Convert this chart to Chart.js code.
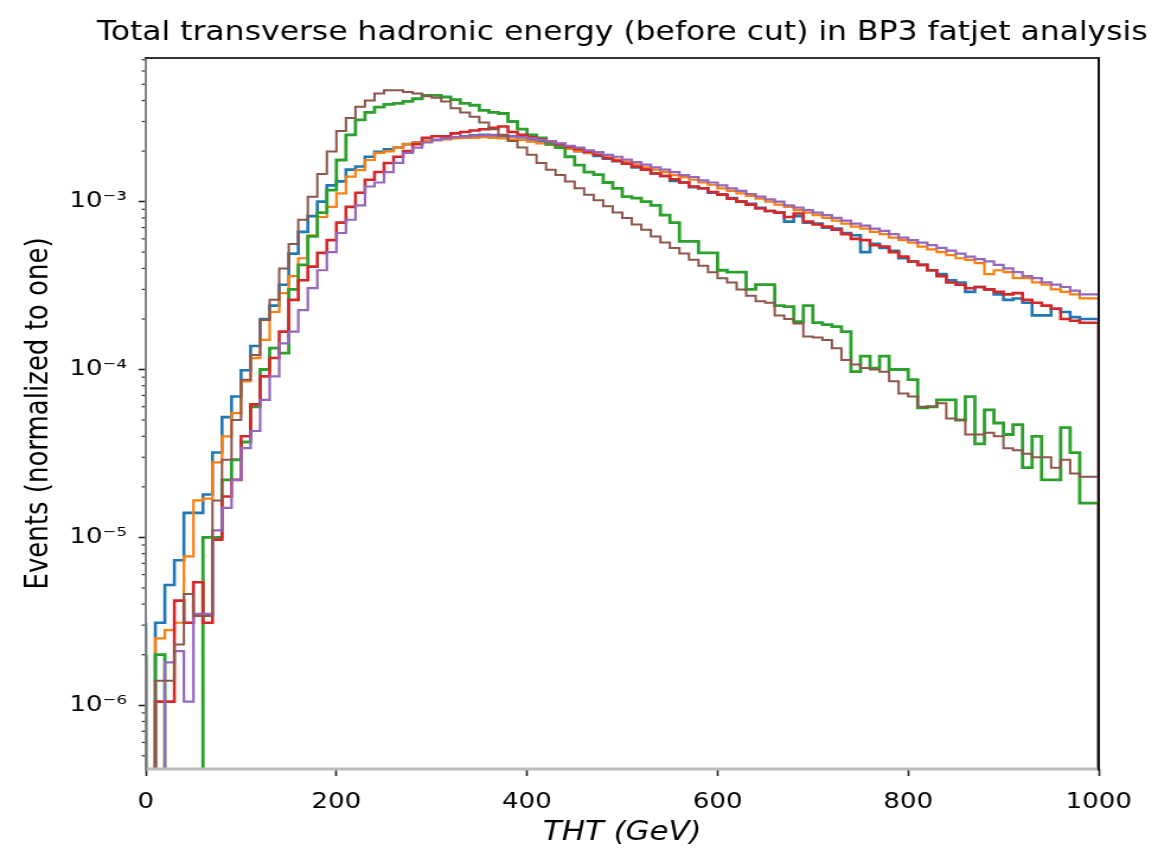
<!DOCTYPE html>
<html>
<head>
<meta charset="utf-8">
<script src="https://cdn.jsdelivr.net/npm/chart.js@4/dist/chart.umd.min.js"></script>
<style>
html,body{margin:0;padding:0;background:#fff;overflow:hidden}
canvas{display:block}
</style>
</head>
<body>
<canvas id="c" width="977" height="854" style="width:1158px;height:854px"></canvas>
<script>
// ---- data (bin edges in GeV, 10 GeV bins) ----
const binEdges = [0,10,20,30,40,50,60,70,80,90,100,110,120,130,140,150,160,170,180,190,
200,210,220,230,240,250,260,270,280,290,300,310,320,330,340,350,360,370,380,390,
400,410,420,430,440,450,460,470,480,490,500,510,520,530,540,550,560,570,580,590,
600,610,620,630,640,650,660,670,680,690,700,710,720,730,740,750,760,770,780,790,
800,810,820,830,840,850,860,870,880,890,900,910,920,930,940,950,960,970,980,990,1000];

const xTickValues = [0,200,400,600,800,1000];
const xTickLabels = ['0','200','400','600','800','1000'];
const yTickValues = [1e-6,1e-5,1e-4,1e-3];
const yTickLabels = ['10\u207B\u2076','10\u207B\u2075','10\u207B\u2074','10\u207B\u00B3'];

const titleText = 'Total transverse hadronic energy (before cut) in BP3 fatjet analysis';
const xTitle = 'THT (GeV)';
const yTitle = 'Events (normalized to one)';

const seriesBlue = [
3.1e-6,0,3.1e-6,5.2e-6,7.3e-6,1.4e-5,1.4e-5,1.8e-5,3.2e-5,5.2e-5,
6.9e-5,9.9e-5,1.38e-4,2.0e-4,2.4e-4,3.2e-4,4.9e-4,6.6e-4,8.2e-4,1.0e-3,
1.25e-3,1.32e-3,1.55e-3,1.62e-3,1.85e-3,1.98e-3,2.05e-3,2.1e-3,2.2e-3,2.25e-3,
2.3e-3,2.33e-3,2.38e-3,2.42e-3,2.45e-3,2.48e-3,2.5e-3,2.48e-3,2.45e-3,2.45e-3,
2.42e-3,2.35e-3,2.3e-3,2.22e-3,2.15e-3,2.08e-3,2.0e-3,1.95e-3,1.87e-3,1.8e-3,
1.74e-3,1.68e-3,1.6e-3,1.55e-3,1.47e-3,1.42e-3,1.33e-3,1.3e-3,1.22e-3,1.2e-3,
1.13e-3,1.1e-3,1.05e-3,1.0e-3,9.7e-4,9.2e-4,8.8e-4,8.6e-4,7.6e-4,8.2e-4,
7.5e-4,7.4e-4,7.0e-4,6.9e-4,6.5e-4,6.3e-4,5.0e-4,5.6e-4,5.3e-4,5.1e-4,
4.6e-4,4.4e-4,4.2e-4,3.9e-4,3.7e-4,3.4e-4,3.3e-4,2.9e-4,3.1e-4,3.0e-4,
2.8e-4,2.6e-4,2.65e-4,2.5e-4,2.1e-4,2.1e-4,2.3e-4,2.2e-4,2.05e-4,2.0e-4];

const seriesOrange = [
1.05e-6,0,2.5e-6,2.8e-6,3.1e-6,7.7e-6,1.66e-5,1.7e-5,2.8e-5,4.0e-5,
5.5e-5,8.5e-5,1.17e-4,1.5e-4,2.2e-4,2.85e-4,3.6e-4,4.6e-4,6.3e-4,8.1e-4,
9.3e-4,1.12e-3,1.41e-3,1.54e-3,1.77e-3,1.95e-3,1.99e-3,2.1e-3,2.2e-3,2.25e-3,
2.3e-3,2.32e-3,2.35e-3,2.38e-3,2.4e-3,2.4e-3,2.42e-3,2.4e-3,2.38e-3,2.35e-3,
2.33e-3,2.28e-3,2.22e-3,2.18e-3,2.12e-3,2.07e-3,2.0e-3,1.95e-3,1.9e-3,1.83e-3,
1.78e-3,1.72e-3,1.67e-3,1.6e-3,1.55e-3,1.5e-3,1.44e-3,1.4e-3,1.35e-3,1.3e-3,
1.26e-3,1.2e-3,1.16e-3,1.12e-3,1.08e-3,1.04e-3,1.0e-3,9.6e-4,9.3e-4,8.9e-4,
8.6e-4,8.3e-4,8.0e-4,7.7e-4,7.4e-4,7.1e-4,6.9e-4,6.6e-4,6.4e-4,6.1e-4,
5.9e-4,5.7e-4,5.4e-4,5.2e-4,5.0e-4,4.8e-4,4.6e-4,4.5e-4,4.3e-4,3.7e-4,
3.9e-4,3.8e-4,3.5e-4,3.5e-4,3.3e-4,3.2e-4,3.0e-4,2.9e-4,2.8e-4,2.65e-4];

const seriesGreen = [
2.0e-6,0,2.0e-6,0,0,0,0,1.0e-5,1.0e-5,2.2e-5,
2.9e-5,3.7e-5,6.0e-5,1.0e-4,1.34e-4,1.25e-4,3.0e-4,4.2e-4,6.2e-4,8.6e-4,
1.17e-3,1.77e-3,2.5e-3,3.07e-3,3.4e-3,3.65e-3,3.8e-3,3.85e-3,3.95e-3,4.1e-3,
4.3e-3,4.3e-3,4.2e-3,4.05e-3,3.85e-3,3.75e-3,3.5e-3,3.4e-3,3.35e-3,3.0e-3,
2.7e-3,2.5e-3,2.4e-3,2.2e-3,2.1e-3,1.85e-3,1.65e-3,1.5e-3,1.45e-3,1.3e-3,
1.2e-3,1.07e-3,1.05e-3,1.0e-3,9.5e-4,8.3e-4,7.5e-4,5.8e-4,5.8e-4,4.95e-4,
4.95e-4,3.9e-4,3.8e-4,3.8e-4,3.0e-4,3.2e-4,3.2e-4,2.4e-4,2.37e-4,1.93e-4,
2.4e-4,1.9e-4,1.85e-4,1.8e-4,1.68e-4,9.7e-5,1.2e-4,1.02e-4,1.2e-4,1.0e-4,
1.0e-4,8.7e-5,5.9e-5,6.0e-5,6.6e-5,6.6e-5,5.0e-5,6.9e-5,3.6e-5,5.75e-5,
4.8e-5,4.1e-5,4.7e-5,2.6e-5,4.0e-5,2.2e-5,2.2e-5,4.5e-5,3.2e-5,1.6e-5];

const seriesRed = [
0,0,1.05e-6,1.05e-6,4.2e-6,3.1e-6,5.4e-6,3.1e-6,9.7e-6,1.75e-5,
2.2e-5,4.0e-5,6.2e-5,9.1e-5,1.17e-4,1.68e-4,2.6e-4,3.4e-4,4.1e-4,4.95e-4,
5.9e-4,7.5e-4,9.3e-4,1.13e-3,1.35e-3,1.5e-3,1.7e-3,1.85e-3,2.0e-3,2.2e-3,
2.4e-3,2.45e-3,2.45e-3,2.55e-3,2.6e-3,2.65e-3,2.7e-3,2.75e-3,2.8e-3,2.6e-3,
2.5e-3,2.42e-3,2.35e-3,2.28e-3,2.2e-3,2.12e-3,2.05e-3,1.98e-3,1.9e-3,1.82e-3,
1.75e-3,1.68e-3,1.62e-3,1.55e-3,1.47e-3,1.42e-3,1.36e-3,1.3e-3,1.23e-3,1.2e-3,
1.14e-3,1.1e-3,1.04e-3,1.0e-3,9.6e-4,9.1e-4,8.8e-4,8.6e-4,8.1e-4,8.5e-4,
7.6e-4,7.3e-4,7.1e-4,6.8e-4,6.4e-4,6.0e-4,5.9e-4,5.5e-4,5.4e-4,5.0e-4,
4.7e-4,4.4e-4,4.2e-4,3.9e-4,3.6e-4,3.3e-4,3.2e-4,3.05e-4,3.1e-4,3.0e-4,
2.9e-4,2.8e-4,2.85e-4,2.6e-4,2.5e-4,2.4e-4,2.3e-4,2.0e-4,1.95e-4,1.9e-4];

const seriesPurple = [
1.8e-6,0,0,1.8e-6,2.1e-6,1.05e-6,3.5e-6,3.5e-6,1.1e-5,1.5e-5,
2.2e-5,3.4e-5,4.3e-5,6.6e-5,9.1e-5,1.43e-4,1.68e-4,2.26e-4,3.05e-4,3.9e-4,
5.0e-4,6.5e-4,7.8e-4,9.5e-4,1.23e-3,1.3e-3,1.5e-3,1.7e-3,1.95e-3,2.1e-3,
2.25e-3,2.33e-3,2.38e-3,2.42e-3,2.45e-3,2.47e-3,2.48e-3,2.5e-3,2.48e-3,2.45e-3,
2.42e-3,2.38e-3,2.33e-3,2.28e-3,2.22e-3,2.15e-3,2.1e-3,2.02e-3,1.97e-3,1.9e-3,
1.85e-3,1.78e-3,1.72e-3,1.66e-3,1.6e-3,1.55e-3,1.5e-3,1.44e-3,1.4e-3,1.34e-3,
1.3e-3,1.25e-3,1.2e-3,1.16e-3,1.11e-3,1.07e-3,1.03e-3,1.0e-3,9.5e-4,9.2e-4,
8.9e-4,8.6e-4,8.3e-4,8.0e-4,7.7e-4,7.4e-4,7.2e-4,6.9e-4,6.7e-4,6.4e-4,
6.1e-4,5.9e-4,5.7e-4,5.5e-4,5.3e-4,5.1e-4,4.9e-4,4.7e-4,4.55e-4,4.4e-4,
4.2e-4,4.0e-4,3.8e-4,3.6e-4,3.5e-4,3.3e-4,3.2e-4,3.1e-4,2.95e-4,2.8e-4];

const seriesBrown = [
6.5e-7,0,1.4e-6,1.4e-6,2.3e-6,4.6e-6,3.4e-6,3.4e-6,1.66e-5,2.9e-5,
5.0e-5,8.7e-5,1.22e-4,1.97e-4,2.6e-4,4.0e-4,5.6e-4,7.8e-4,1.07e-3,1.46e-3,
1.99e-3,2.63e-3,3.15e-3,3.68e-3,4.0e-3,4.4e-3,4.6e-3,4.6e-3,4.5e-3,4.4e-3,
4.25e-3,4.15e-3,3.95e-3,3.6e-3,3.4e-3,3.2e-3,2.96e-3,2.7e-3,2.5e-3,2.3e-3,
2.1e-3,1.9e-3,1.7e-3,1.55e-3,1.44e-3,1.32e-3,1.2e-3,1.1e-3,1.02e-3,9.4e-4,
8.6e-4,8.0e-4,7.3e-4,6.8e-4,6.2e-4,5.7e-4,5.3e-4,4.9e-4,4.5e-4,4.15e-4,
3.8e-4,3.5e-4,3.3e-4,3.0e-4,2.75e-4,2.55e-4,2.5e-4,2.1e-4,2.0e-4,1.88e-4,
1.57e-4,1.55e-4,1.5e-4,1.34e-4,1.14e-4,1.07e-4,1.02e-4,1.0e-4,9.7e-5,8.5e-5,
7.2e-5,6.9e-5,6.0e-5,6.0e-5,6.3e-5,5.1e-5,5.0e-5,4.1e-5,4.1e-5,4.2e-5,
4.0e-5,3.4e-5,3.3e-5,3.15e-5,3.0e-5,3.0e-5,2.6e-5,2.9e-5,2.4e-5,2.3e-5];

const seriesList = [seriesBlue, seriesOrange, seriesGreen, seriesRed, seriesPurple, seriesBrown];
const seriesColors = ['#1f77b4','#ff7f0e','#2ca02c','#d62728','#9467bd','#8c564b'];
const seriesWidths = [2.6, 2.2, 2.8, 2.6, 2.2, 2.0];

// ---- build step outlines ----
const FLOOR = 1e-9;
function stepPoints(vals) {
  const n = vals.length;
  const pts = [{x: binEdges[0], y: FLOOR}];
  for (let i = 0; i < n; i++) pts.push({x: binEdges[i], y: vals[i] > 0 ? vals[i] : FLOOR});
  pts.push({x: binEdges[n], y: vals[n-1] > 0 ? vals[n-1] : FLOOR});
  pts.push({x: binEdges[n], y: FLOOR});
  return pts;
}

const datasets = seriesList.map((vals, i) => ({
  data: stepPoints(vals),
  borderColor: seriesColors[i],
  borderWidth: seriesWidths[i],
  backgroundColor: seriesColors[i],
  fill: false,
  stepped: 'after',
  pointRadius: 0,
  tension: 0,
  order: seriesList.length - 1 - i
}));

const FONT = '"DejaVu Sans", sans-serif';
Chart.defaults.font.family = FONT;
Chart.defaults.color = '#000';

const framePlugin = {
  id: 'frame',
  afterDraw(chart) {
    const ctx = chart.ctx;
    const a = chart.chartArea;
    const y = chart.scales.y;
    ctx.save();
    // minor log ticks
    ctx.strokeStyle = '#333';
    ctx.lineWidth = 1.2;
    for (let p = -7; p <= -2; p++) {
      for (let k = 2; k <= 9; k++) {
        const v = k * Math.pow(10, p);
        if (v < y.min || v > y.max) continue;
        const py = y.getPixelForValue(v);
        ctx.beginPath();
        ctx.moveTo(a.left - 3.5, py);
        ctx.lineTo(a.left, py);
        ctx.stroke();
      }
    }
    // spines
    ctx.lineCap = 'butt';
    ctx.strokeStyle = '#bbb'; ctx.lineWidth = 3;
    ctx.beginPath(); ctx.moveTo(a.left, a.bottom); ctx.lineTo(a.right, a.bottom); ctx.stroke();
    ctx.strokeStyle = '#777'; ctx.lineWidth = 1.8;
    ctx.beginPath(); ctx.moveTo(a.left, a.top); ctx.lineTo(a.left, a.bottom + 1.5); ctx.stroke();
    ctx.strokeStyle = '#333'; ctx.lineWidth = 1.8;
    ctx.beginPath(); ctx.moveTo(a.left - 1, a.top); ctx.lineTo(a.right + 1, a.top); ctx.stroke();
    ctx.strokeStyle = '#111'; ctx.lineWidth = 2;
    ctx.beginPath(); ctx.moveTo(a.right, a.top); ctx.lineTo(a.right, a.bottom + 1.5); ctx.stroke();
    // title
    ctx.fillStyle = '#000';
    ctx.font = '26.5px ' + FONT;
    ctx.textAlign = 'center';
    ctx.textBaseline = 'middle';
    ctx.fillText(titleText, (a.left + a.right) / 2, 33);
    ctx.restore();
  }
};

new Chart(document.getElementById('c'), {
  type: 'line',
  data: {datasets},
  options: {
    responsive: false,
    animation: false,
    devicePixelRatio: 1,
    layout: {padding: {top: 58, right: 50, left: 0, bottom: 0}},
    plugins: {legend: {display: false}, tooltip: {enabled: false}, title: {display: false}},
    elements: {point: {radius: 0}, line: {tension: 0}},
    scales: {
      x: {
        type: 'linear',
        min: 0, max: 1000,
        afterBuildTicks(scale) { scale.ticks = xTickValues.map(v => ({value: v})); },
        afterFit(scale) { scale.height = 85; },
        ticks: {
          font: {size: 22}, padding: 13, maxRotation: 0, autoSkip: false, color: '#000',
          callback(value) { const i = xTickValues.indexOf(value); return i >= 0 ? xTickLabels[i] : ''; }
        },
        grid: {display: true, drawOnChartArea: false, drawTicks: true, tickLength: 7, tickColor: '#222', tickWidth: 1.6},
        border: {display: false},
        title: {display: true, text: xTitle, font: {size: 26, style: 'italic'}, padding: {top: 0, bottom: 5}, color: '#000'}
      },
      y: {
        type: 'logarithmic',
        min: 4.17e-7, max: 7.17e-3,
        afterBuildTicks(scale) { scale.ticks = yTickValues.map(v => ({value: v, major: true})); },
        afterFit(scale) { scale.width = 123; },
        ticks: {
          font: {size: 22}, padding: 10, autoSkip: false, color: '#000',
          callback(value) { const i = yTickValues.indexOf(value); return i >= 0 ? yTickLabels[i] : ''; }
        },
        grid: {display: true, drawOnChartArea: false, drawTicks: true, tickLength: 6, tickColor: '#222', tickWidth: 1.6},
        border: {display: false},
        title: {display: true, text: yTitle, font: {size: 26}, padding: {top: 18, bottom: 0}, color: '#000'}
      }
    }
  },
  plugins: [framePlugin]
});
</script>
</body>
</html>
